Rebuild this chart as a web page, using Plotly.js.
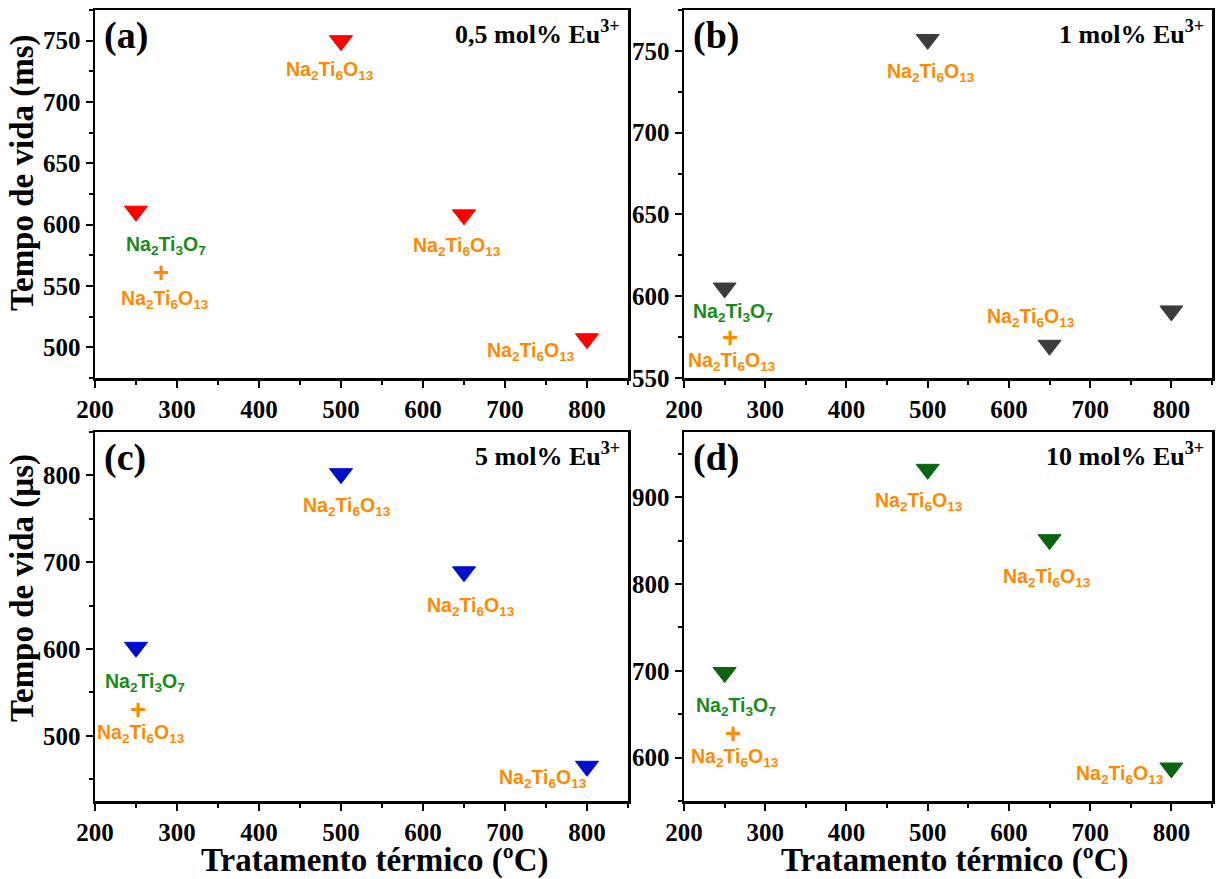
<!DOCTYPE html>
<html><head><meta charset="utf-8">
<script src="https://cdn.plot.ly/plotly-3.0.1.min.js"></script>
<style>html,body{margin:0;padding:0;background:#fff}#chart{width:1217px;height:879px}</style>
</head><body><div id="chart"></div>
<script>
// Data
const temps = [250, 500, 650, 800];
const tauA = [611, 750, 608, 507];   // 0,5 mol% (ms)
const tauB = [605, 757, 570, 591];   // 1 mol% (ms)
const tauC = [602, 802, 689, 465];   // 5 mol% (µs)
const tauD = [698, 932, 851, 588];   // 10 mol% (µs)
const panelLetters = ['(a)', '(b)', '(c)', '(d)'];
const concLabels = ['0,5 mol% Eu<sup>3+</sup>', '1 mol% Eu<sup>3+</sup>', '5 mol% Eu<sup>3+</sup>', '10 mol% Eu<sup>3+</sup>'];
const phaseMix1 = 'Na<sub>2</sub>Ti<sub>3</sub>O<sub>7</sub>';
const phaseMain = 'Na<sub>2</sub>Ti<sub>6</sub>O<sub>13</sub>';
const yTitleTop = 'Tempo de vida (ms)';
const yTitleBot = 'Tempo de vida (µs)';
const xTitle = 'Tratamento térmico (ºC)';

const markerColors = ['#ff0000', '#3c3c3c', '#0010c8', '#0a6410'];
const orange = '#ff8a00', green = '#1a8a1a';
const serif = {family: 'Liberation Serif, Times New Roman, serif', weight: 'bold', color: '#000'};

const series = [tauA, tauB, tauC, tauD];
const traces = series.map((s, i) => ({
  x: temps, y: s, type: 'scatter', mode: 'markers',
  xaxis: i === 0 ? 'x' : 'x' + (i + 1), yaxis: i === 0 ? 'y' : 'y' + (i + 1),
  marker: {symbol: 'triangle-down', size: 20, color: markerColors[i], line: {width: 1, color: markerColors[i]}},
  showlegend: false, hoverinfo: 'x+y'
}));

const W = 1217, H = 879;
const xdomL = [95 / W, 628 / W], xdomR = [684 / W, 1212 / W];
const ydomT = [1 - 378 / H, 1 - 10 / H], ydomB = [1 - 801 / H, 1 - 432 / H];

function xa(dom, anchor) {
  return {domain: dom, anchor: anchor, range: [200, 850], dtick: 100, tick0: 200,
    ticks: 'outside', ticklen: 7, tickwidth: 2, tickcolor: '#000',
    minor: {dtick: 50, ticks: 'outside', ticklen: 4, tickwidth: 2, tickcolor: '#000'},
    showline: true, linewidth: 2.5, linecolor: '#000', mirror: true,
    showgrid: false, zeroline: false, tickfont: Object.assign({size: 25}, serif)};
}
function ya(dom, anchor, range, dt) {
  return {domain: dom, anchor: anchor, range: range, dtick: dt,
    ticks: 'outside', ticklen: 7, tickwidth: 2, tickcolor: '#000',
    minor: {dtick: dt / 2, ticks: 'outside', ticklen: 4, tickwidth: 2, tickcolor: '#000'},
    showline: true, linewidth: 2.5, linecolor: '#000', mirror: true,
    showgrid: false, zeroline: false, tickfont: Object.assign({size: 25}, serif)};
}

const sans = (c, s) => ({family: 'Liberation Sans, Arial, sans-serif', weight: 'bold', size: s || 19.5, color: c});
function lab(ax, x, y, text, color, size) {
  return {xref: ax[0], yref: ax[1], x: x, y: y, text: text, showarrow: false, font: sans(color, size), xanchor: 'center', yanchor: 'middle'};
}
const axes = [['x', 'y'], ['x2', 'y2'], ['x3', 'y3'], ['x4', 'y4']];
const ann = [];
// formula labels
const A = axes[0], B = axes[1], C = axes[2], D = axes[3];
ann.push(lab(A, 486, 726, phaseMain, orange), lab(A, 286, 583, phaseMix1, green), lab(A, 280, 561, '+', orange, 28), lab(A, 285, 539, phaseMain, orange), lab(A, 642, 582, phaseMain, orange), lab(A, 732, 497, phaseMain, orange));
ann.push(lab(B, 504, 737, phaseMain, orange), lab(B, 260, 590, phaseMix1, green), lab(B, 257, 575, '+', orange, 28), lab(B, 259, 560, phaseMain, orange), lab(B, 627, 587, phaseMain, orange));
ann.push(lab(C, 507, 764, phaseMain, orange), lab(C, 659, 649, phaseMain, orange), lab(C, 261, 561, phaseMix1, green), lab(C, 253, 530, '+', orange, 28), lab(C, 256, 503, phaseMain, orange), lab(C, 746, 451, phaseMain, orange));
ann.push(lab(D, 489, 895, phaseMain, orange), lab(D, 647, 807, phaseMain, orange), lab(D, 264, 659, phaseMix1, green), lab(D, 260, 628, '+', orange, 28), lab(D, 263, 600, phaseMain, orange), lab(D, 737, 581, phaseMain, orange));

// panel letters and concentration labels (paper coords)
const panelBoxes = [[xdomL, ydomT], [xdomR, ydomT], [xdomL, ydomB], [xdomR, ydomB]];
panelBoxes.forEach((b, i) => {
  ann.push({xref: 'paper', yref: 'paper', x: b[0][0] + 7 / W, y: b[1][1] - 2 / H, xanchor: 'left', yanchor: 'top',
    text: panelLetters[i], showarrow: false, font: Object.assign({}, serif, {size: 38})});
  ann.push({xref: 'paper', yref: 'paper', x: b[0][1] - 6 / W, y: b[1][1] - 4 / H, xanchor: 'right', yanchor: 'top',
    text: concLabels[i], showarrow: false, font: Object.assign({}, serif, {size: 26})});
});
// axis titles
ann.push({xref: 'paper', yref: 'paper', x: 22 / W, y: 1 - 173 / H, text: yTitleTop, textangle: -90, showarrow: false, xanchor: 'center', yanchor: 'middle', font: Object.assign({}, serif, {size: 33})});
ann.push({xref: 'paper', yref: 'paper', x: 22 / W, y: 1 - 588 / H, text: yTitleBot, textangle: -90, showarrow: false, xanchor: 'center', yanchor: 'middle', font: Object.assign({}, serif, {size: 33})});
ann.push({xref: 'paper', yref: 'paper', x: 374 / W, y: 1 - 860 / H, text: xTitle, showarrow: false, xanchor: 'center', yanchor: 'middle', font: Object.assign({}, serif, {size: 33})});
ann.push({xref: 'paper', yref: 'paper', x: 954 / W, y: 1 - 860 / H, text: xTitle, showarrow: false, xanchor: 'center', yanchor: 'middle', font: Object.assign({}, serif, {size: 33})});

const layout = {
  width: W, height: H, margin: {l: 0, r: 0, t: 0, b: 0},
  paper_bgcolor: '#fff', plot_bgcolor: '#fff', showlegend: false,
  xaxis: xa(xdomL, 'y'), yaxis: ya(ydomT, 'x', [475, 775], 50),
  xaxis2: xa(xdomR, 'y2'), yaxis2: ya(ydomT, 'x2', [550, 775], 50),
  xaxis3: xa(xdomL, 'y3'), yaxis3: ya(ydomB, 'x3', [425, 850], 100),
  xaxis4: xa(xdomR, 'y4'), yaxis4: ya(ydomB, 'x4', [550, 975], 100),
  annotations: ann
};
Plotly.newPlot('chart', traces, layout, {displayModeBar: false, staticPlot: true});
</script></body></html>
